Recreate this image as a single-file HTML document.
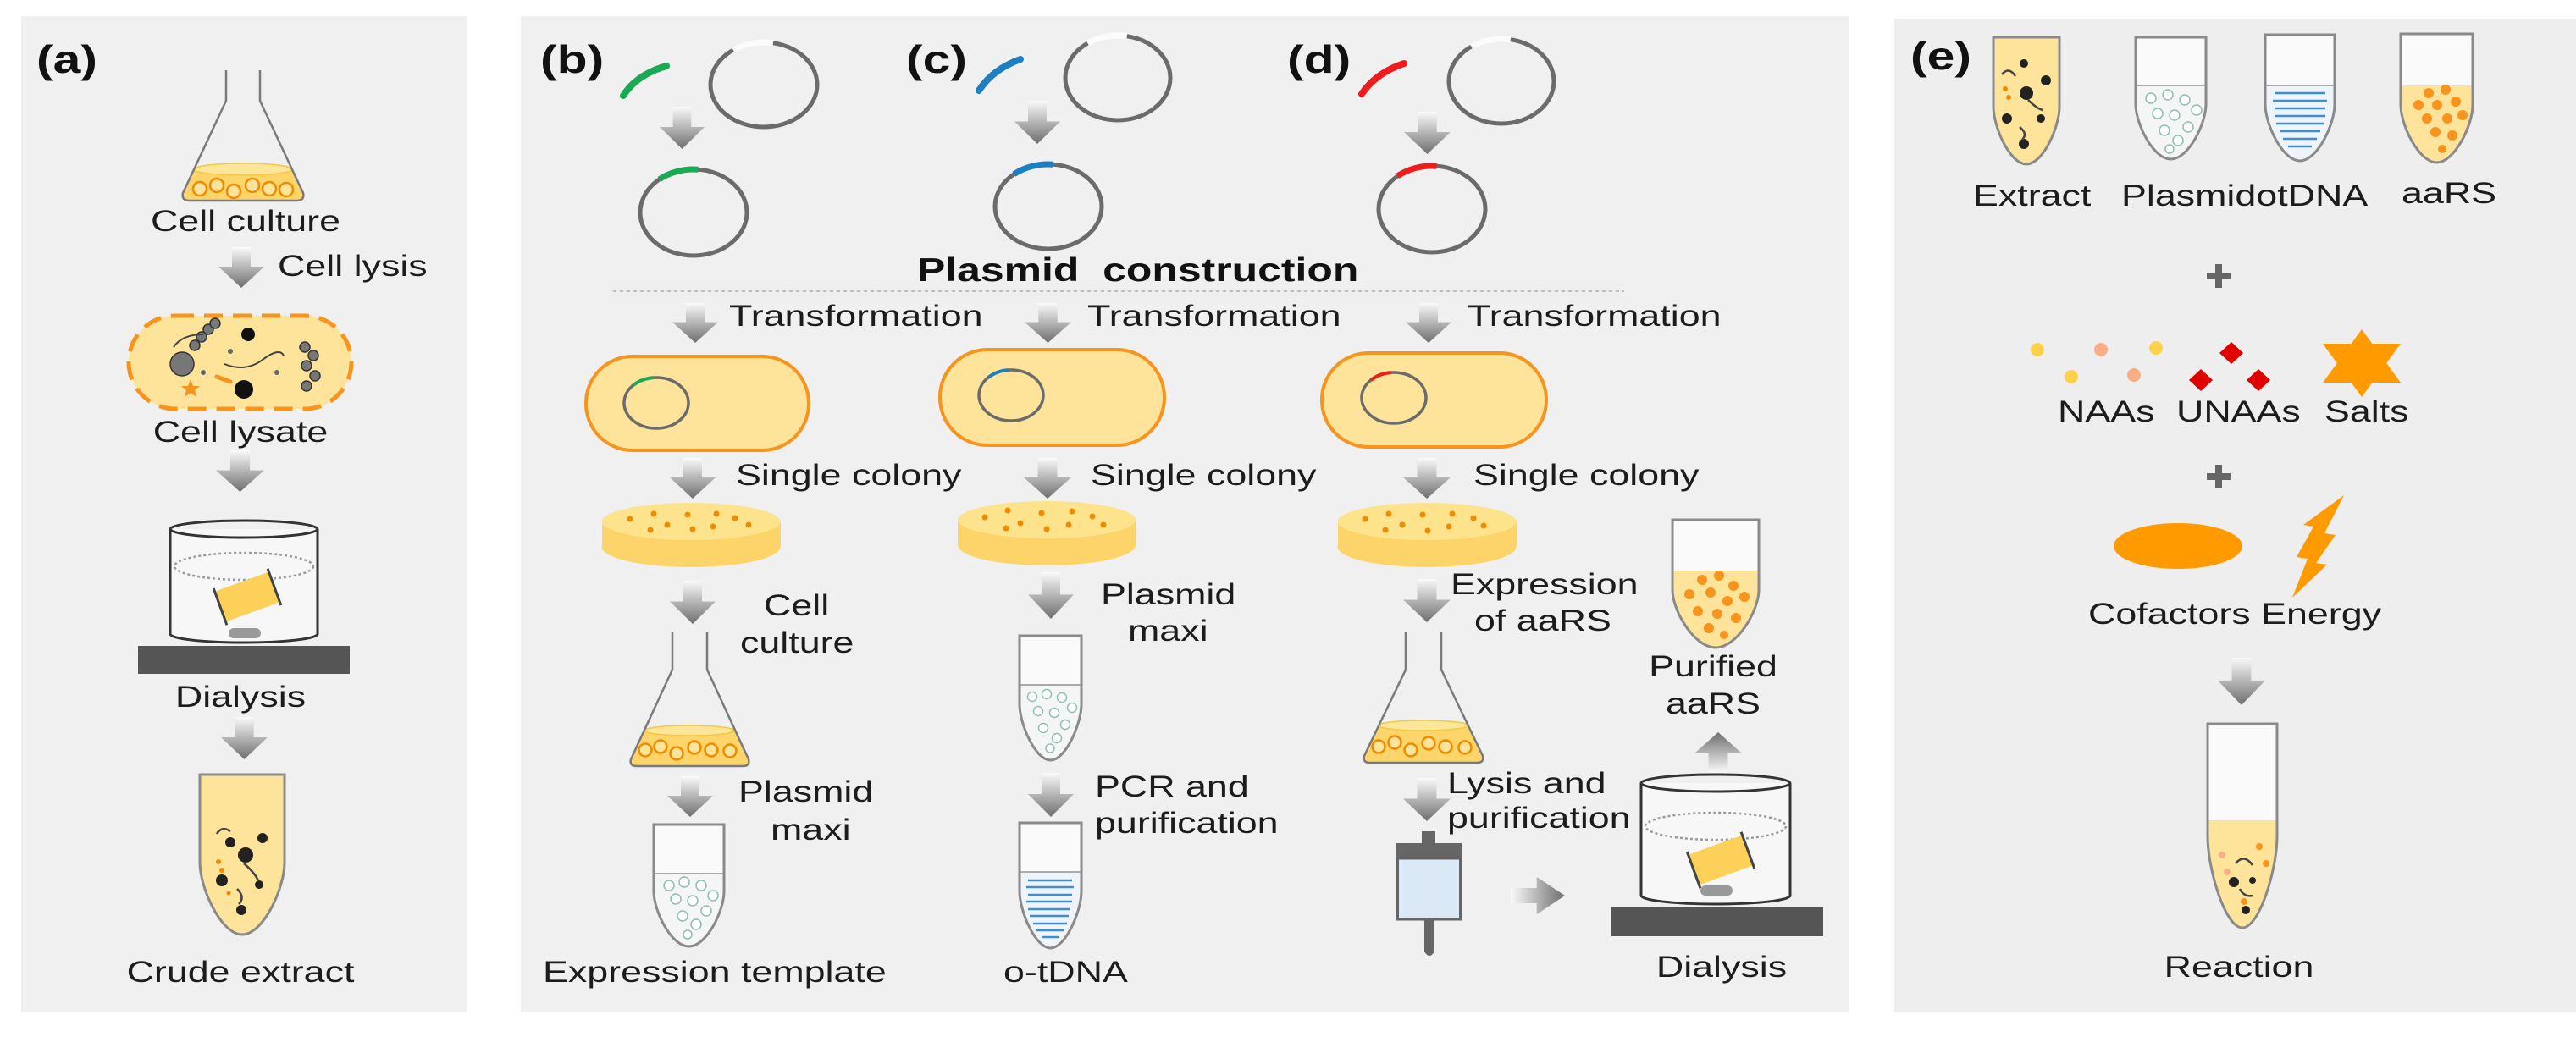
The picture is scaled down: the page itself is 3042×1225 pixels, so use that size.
<!DOCTYPE html>
<html><head><meta charset="utf-8"><style>
html,body{margin:0;padding:0;background:#fff}
svg{display:block}
.t{font-family:"Liberation Sans",Arial,sans-serif;font-size:35px;fill:#1c1c1c}
.b{font-family:"Liberation Sans",Arial,sans-serif;font-weight:bold;font-size:46px;fill:#111}
.pc{font-family:"Liberation Sans",Arial,sans-serif;font-weight:bold;font-size:39px;fill:#111}
.tube{fill:none;stroke:#8a8a8a;stroke-width:3}
.fl{fill:none;stroke:#7a7a7a;stroke-width:2.5}
.pl{fill:none;stroke:#6b6b6b;stroke-width:5}
.cell{fill:#fde49a;stroke:#f7941d;stroke-width:4}
.dot{fill:#f08a00}
.cc{fill:#fde49a;stroke:#f08a00;stroke-width:2.5}
</style></head><body>
<svg width="3042" height="1225" viewBox="0 0 3042 1225" xmlns="http://www.w3.org/2000/svg">
<defs>
<linearGradient id="gd" x1="0" y1="0" x2="0" y2="1"><stop offset="0" stop-color="#fafafa"/><stop offset="1" stop-color="#6e6e6e"/></linearGradient>
<linearGradient id="gr" x1="0" y1="0" x2="1" y2="0"><stop offset="0" stop-color="#fafafa"/><stop offset="1" stop-color="#6e6e6e"/></linearGradient>
<linearGradient id="gu" x1="0" y1="1" x2="0" y2="0"><stop offset="0" stop-color="#fafafa"/><stop offset="1" stop-color="#6e6e6e"/></linearGradient>
<symbol id="dn" viewBox="0 0 54 50" preserveAspectRatio="none"><path d="M16,0 H38 V24 H54 L27,50 L0,24 H16 Z" fill="url(#gd)"/></symbol>
<symbol id="rt" viewBox="0 0 50 54" preserveAspectRatio="none"><path d="M0,16 V38 H24 V54 L50,27 L24,0 V16 Z" fill="url(#gr)"/></symbol>
<symbol id="up" viewBox="0 0 54 50" preserveAspectRatio="none"><path d="M16,50 H38 V26 H54 L27,0 L0,26 H16 Z" fill="url(#gu)"/></symbol>
</defs>

<!-- panels -->
<rect x="25" y="19" width="527" height="1177" fill="#f0f0f0"/>
<rect x="615" y="19" width="1569" height="1177" fill="#f0f0f0"/>
<rect x="2237" y="22" width="805" height="1174" fill="#eeeeee"/>

<!-- ===== Panel a ===== -->
<text class="b" transform="matrix(1.28 0 0 1 43 86)">(a)</text>
<path d="M229,200 L216,228 Q214,237 224,237 L350,237 Q360,237 358,228 L345,200 Z" fill="#fdd56b"/>
<ellipse cx="287" cy="200" rx="58" ry="7" fill="#fde69a" stroke="#f5c842" stroke-width="1.5"/>
<g class="cc"><circle cx="236" cy="223" r="8"/><circle cx="256" cy="219" r="8"/><circle cx="276" cy="226" r="8"/><circle cx="298" cy="219" r="8"/><circle cx="318" cy="223" r="8"/><circle cx="338" cy="224" r="8"/></g>
<path class="fl" d="M267,83 L267,119 L216,228 Q214,237 224,237 L350,237 Q360,237 358,228 L307,119 L307,83"/>
<text class="t" text-anchor="middle" transform="matrix(1.28 0 0 1 290 273)">Cell culture</text>
<use href="#dn" x="258" y="292" width="54" height="48"/>
<text class="t" transform="matrix(1.28 0 0 1 328 326)">Cell lysis</text>
<rect x="152" y="373" width="263" height="110" rx="55" fill="#fde49a" stroke="#f7941d" stroke-width="5" stroke-dasharray="22 12"/>
<g fill="#777" stroke="#333" stroke-width="1.5"><circle cx="215" cy="430" r="14"/><circle cx="230" cy="408" r="6"/><circle cx="238" cy="398" r="6"/><circle cx="246" cy="389" r="6"/><circle cx="254" cy="382" r="6"/>
<circle cx="360" cy="410" r="6"/><circle cx="370" cy="420" r="6"/><circle cx="362" cy="432" r="6"/><circle cx="372" cy="444" r="6"/><circle cx="362" cy="456" r="6"/></g>
<path d="M265,430 Q290,440 310,425 T335,420" fill="none" stroke="#444" stroke-width="2"/>
<path d="M205,410 Q215,395 240,395" fill="none" stroke="#444" stroke-width="2"/>
<circle cx="293" cy="395" r="8" fill="#111"/><circle cx="288" cy="460" r="11" fill="#111"/><circle cx="272" cy="415" r="3" fill="#666"/><circle cx="327" cy="440" r="3" fill="#666"/><circle cx="240" cy="440" r="3" fill="#666"/>
<path d="M225,448 L228,456 L236,456 L230,461 L232,469 L225,464 L218,469 L220,461 L214,456 L222,456 Z" fill="#f7941d"/>
<line x1="256" y1="445" x2="272" y2="451" stroke="#f7941d" stroke-width="5" stroke-linecap="round"/>
<text class="t" text-anchor="middle" transform="matrix(1.28 0 0 1 284 522)">Cell lysate</text>
<use href="#dn" x="255" y="532" width="57" height="49"/>
<!-- beaker a -->
<path d="M201,625 V749 A87,10 0 0 0 375,749 V625" fill="#f7f7f7" stroke="#333" stroke-width="3"/>
<ellipse cx="288" cy="625" rx="87" ry="10" fill="none" stroke="#333" stroke-width="3"/>
<ellipse cx="288" cy="669" rx="82" ry="16" fill="none" stroke="#999" stroke-width="2.5" stroke-dasharray="3 3"/>
<g transform="rotate(-20 292 705)"><rect x="258" y="686" width="68" height="38" fill="#fdd05a"/><line x1="258" y1="682" x2="258" y2="728" stroke="#444" stroke-width="3"/><line x1="326" y1="682" x2="326" y2="728" stroke="#444" stroke-width="3"/></g>
<rect x="270" y="742" width="38" height="12" rx="6" fill="#999"/>
<rect x="163" y="763" width="250" height="33" fill="#555"/>
<text class="t" text-anchor="middle" transform="matrix(1.28 0 0 1 284 835)">Dialysis</text>
<use href="#dn" x="261" y="847" width="55" height="50"/>
<path d="M236,915 L236,1019 C236,1049 261,1104 286,1104 C311,1104 336,1049 336,1019 L336,915 Z" fill="#fde49a"/>
<g fill="#222"><circle cx="272" cy="995" r="6"/><circle cx="290" cy="1010" r="9"/><circle cx="262" cy="1040" r="7"/><circle cx="306" cy="1045" r="5"/><circle cx="285" cy="1075" r="6"/><circle cx="310" cy="990" r="6"/></g>
<path d="M256,985 Q262,975 272,982 M288,1020 Q300,1030 305,1040 M280,1050 Q290,1060 282,1068" fill="none" stroke="#444" stroke-width="2.5"/>
<g fill="#f08a00"><circle cx="258" cy="1018" r="3"/><circle cx="262" cy="1028" r="3"/><circle cx="270" cy="1055" r="2.5"/></g>
<path class="tube" d="M236,915 L236,1019 C236,1049 261,1104 286,1104 C311,1104 336,1049 336,1019 L336,915 Z"/>
<text class="t" text-anchor="middle" transform="matrix(1.28 0 0 1 284 1160)">Crude extract</text>

<!-- ===== Panel b,c,d ===== -->
<text class="b" transform="matrix(1.28 0 0 1 638 86)">(b)</text>
<text class="b" transform="matrix(1.28 0 0 1 1070 86)">(c)</text>
<text class="b" transform="matrix(1.28 0 0 1 1520 86)">(d)</text>
<!-- fragments -->
<path d="M736,113 Q752,88 787,78" fill="none" stroke="#1aaa55" stroke-width="8" stroke-linecap="round"/>
<path d="M1156,107 Q1172,82 1205,70" fill="none" stroke="#1e7fc0" stroke-width="8" stroke-linecap="round"/>
<path d="M1608,111 Q1625,86 1658,75" fill="none" stroke="#ee1c1c" stroke-width="8" stroke-linecap="round"/>
<!-- open plasmids -->
<ellipse class="pl" cx="902" cy="100" rx="63" ry="50"/><path d="M865.8,59 A63,50 0 0 1 913,50.8" fill="none" stroke="#fbfbfb" stroke-width="7"/>
<ellipse class="pl" cx="1320" cy="92" rx="62" ry="50"/><path d="M1284.4,51 A62,50 0 0 1 1330.8,42.8" fill="none" stroke="#fbfbfb" stroke-width="7"/>
<ellipse class="pl" cx="1773" cy="96" rx="62" ry="50"/><path d="M1737.4,55 A62,50 0 0 1 1783.8,46.8" fill="none" stroke="#fbfbfb" stroke-width="7"/>
<use href="#dn" x="779" y="126" width="53" height="50"/>
<use href="#dn" x="1198" y="119" width="54" height="51"/>
<use href="#dn" x="1658" y="132" width="55" height="50"/>
<!-- recombinant plasmids -->
<ellipse class="pl" cx="819" cy="251" rx="63" ry="51"/><path d="M778.5,211.9 A63,51 0 0 1 824.5,200.2" fill="none" stroke="#1aaa55" stroke-width="7"/>
<ellipse class="pl" cx="1238" cy="244" rx="63" ry="50"/><path d="M1197.5,205.7 A63,50 0 0 1 1243.5,194.2" fill="none" stroke="#1e7fc0" stroke-width="7"/>
<ellipse class="pl" cx="1691" cy="247" rx="63" ry="51"/><path d="M1650.5,207.9 A63,51 0 0 1 1696.5,196.2" fill="none" stroke="#ee1c1c" stroke-width="7"/>
<text class="pc" transform="matrix(1.28 0 0 1 1083 332)" xml:space="preserve">Plasmid  construction</text>
<line x1="724" y1="344" x2="1918" y2="344" stroke="#bdbdbd" stroke-width="2" stroke-dasharray="4 4"/>
<!-- transformation -->
<use href="#dn" x="794" y="358" width="54" height="47"/>
<use href="#dn" x="1210" y="358" width="55" height="47"/>
<use href="#dn" x="1660" y="358" width="54" height="47"/>
<text class="t" transform="matrix(1.28 0 0 1 861 385)">Transformation</text>
<text class="t" transform="matrix(1.28 0 0 1 1284 385)">Transformation</text>
<text class="t" transform="matrix(1.28 0 0 1 1733 385)">Transformation</text>
<!-- cells -->
<rect class="cell" x="692" y="421" width="263" height="111" rx="55"/>
<rect class="cell" x="1110" y="413" width="265" height="113" rx="56"/>
<rect class="cell" x="1561" y="417" width="265" height="111" rx="55"/>
<ellipse cx="775" cy="476" rx="38" ry="30" fill="none" stroke="#6b6b6b" stroke-width="3.5"/><path d="M748,455 A38,30 0 0 1 771.7,446.1" fill="none" stroke="#1aaa55" stroke-width="4"/>
<ellipse cx="1194" cy="467" rx="38" ry="30" fill="none" stroke="#6b6b6b" stroke-width="3.5"/><path d="M1167,446 A38,30 0 0 1 1190.7,437.1" fill="none" stroke="#1e7fc0" stroke-width="4"/>
<ellipse cx="1646" cy="470" rx="38" ry="30" fill="none" stroke="#6b6b6b" stroke-width="3.5"/><path d="M1619,449 A38,30 0 0 1 1642.7,440.1" fill="none" stroke="#ee1c1c" stroke-width="4"/>
<!-- single colony -->
<use href="#dn" x="791" y="541" width="54" height="48"/>
<use href="#dn" x="1209" y="541" width="56" height="48"/>
<use href="#dn" x="1657" y="541" width="56" height="48"/>
<text class="t" transform="matrix(1.28 0 0 1 869 573)">Single colony</text>
<text class="t" transform="matrix(1.28 0 0 1 1288 573)">Single colony</text>
<text class="t" transform="matrix(1.28 0 0 1 1740 573)">Single colony</text>
<!-- petri dishes -->
<g>
<rect x="711" y="616" width="211" height="30" fill="#fcd46a"/><ellipse cx="816" cy="646" rx="105.5" ry="24" fill="#fcd46a"/><ellipse cx="816" cy="616" rx="105.5" ry="22" fill="#fde48c"/>
<rect x="1131" y="614" width="210" height="30" fill="#fcd46a"/><ellipse cx="1236" cy="644" rx="105" ry="24" fill="#fcd46a"/><ellipse cx="1236" cy="614" rx="105" ry="22" fill="#fde48c"/>
<rect x="1580" y="616" width="211" height="30" fill="#fcd46a"/><ellipse cx="1685" cy="646" rx="105.5" ry="24" fill="#fcd46a"/><ellipse cx="1685" cy="616" rx="105.5" ry="22" fill="#fde48c"/>
</g>
<g class="dot">
<circle cx="744" cy="613" r="3.5"/><circle cx="772" cy="607" r="3.5"/><circle cx="788" cy="620" r="3.5"/><circle cx="812" cy="608" r="3.5"/><circle cx="818" cy="625" r="3.5"/><circle cx="846" cy="607" r="3.5"/><circle cx="842" cy="622" r="3.5"/><circle cx="868" cy="612" r="3.5"/><circle cx="884" cy="620" r="3.5"/><circle cx="768" cy="626" r="3.5"/>
<circle cx="1163" cy="611" r="3.5"/><circle cx="1190" cy="603" r="3.5"/><circle cx="1205" cy="618" r="3.5"/><circle cx="1230" cy="606" r="3.5"/><circle cx="1236" cy="625" r="3.5"/><circle cx="1266" cy="604" r="3.5"/><circle cx="1262" cy="620" r="3.5"/><circle cx="1290" cy="610" r="3.5"/><circle cx="1303" cy="620" r="3.5"/><circle cx="1188" cy="624" r="3.5"/>
<circle cx="1612" cy="613" r="3.5"/><circle cx="1640" cy="607" r="3.5"/><circle cx="1656" cy="620" r="3.5"/><circle cx="1680" cy="608" r="3.5"/><circle cx="1686" cy="627" r="3.5"/><circle cx="1715" cy="607" r="3.5"/><circle cx="1711" cy="622" r="3.5"/><circle cx="1740" cy="612" r="3.5"/><circle cx="1752" cy="621" r="3.5"/><circle cx="1636" cy="626" r="3.5"/>
</g>
<!-- column b lower -->
<use href="#dn" x="791" y="686" width="54" height="51"/>
<text class="t" transform="matrix(1.28 0 0 1 902 727)">Cell</text>
<text class="t" transform="matrix(1.28 0 0 1 874 771)">culture</text>
<path d="M761,863 L745,897 Q743,905 752,905 L877,905 Q886,905 884,897 L868,863 Z" fill="#fdd56b"/>
<ellipse cx="814" cy="863" rx="53" ry="6" fill="#fde69a" stroke="#f5c842" stroke-width="1.5"/>
<g class="cc"><circle cx="762" cy="886" r="7.5"/><circle cx="780" cy="882" r="7.5"/><circle cx="799" cy="890" r="7.5"/><circle cx="820" cy="883" r="7.5"/><circle cx="840" cy="886" r="7.5"/><circle cx="862" cy="887" r="7.5"/></g>
<path class="fl" d="M794,747 L794,791 L745,897 Q743,905 752,905 L877,905 Q886,905 884,897 L835,791 L835,747"/>
<use href="#dn" x="788" y="917" width="54" height="48"/>
<text class="t" transform="matrix(1.28 0 0 1 872 947)">Plasmid</text>
<text class="t" transform="matrix(1.28 0 0 1 910 992)">maxi</text>
<path d="M772,974 L772,1053 C772,1076 792.5,1118 813.5,1118 C834.5,1118 855,1076 855,1053 L855,974 Z" fill="#f4f6f6"/>
<rect x="773" y="975" width="81" height="57" fill="#fafafa"/><line x1="773" y1="1032" x2="854" y2="1032" stroke="#aaa" stroke-width="2"/>
<g fill="#fff" stroke="#8fbdb5" stroke-width="1.5"><circle cx="790" cy="1046" r="6"/><circle cx="808" cy="1042" r="6"/><circle cx="828" cy="1046" r="6"/><circle cx="842" cy="1058" r="6"/><circle cx="798" cy="1062" r="6"/><circle cx="818" cy="1064" r="6"/><circle cx="834" cy="1076" r="6"/><circle cx="806" cy="1082" r="6"/><circle cx="822" cy="1092" r="6"/><circle cx="812" cy="1104" r="5"/></g>
<path class="tube" d="M772,974 L772,1053 C772,1076 792.5,1118 813.5,1118 C834.5,1118 855,1076 855,1053 L855,974 Z"/>
<text class="t" transform="matrix(1.28 0 0 1 641 1160)">Expression template</text>
<!-- column c lower -->
<use href="#dn" x="1214" y="676" width="54" height="55"/>
<text class="t" transform="matrix(1.28 0 0 1 1300 714)">Plasmid</text>
<text class="t" transform="matrix(1.28 0 0 1 1332 757)">maxi</text>
<path d="M1204,751 L1204,832 C1204,855 1222.5,898 1240.5,898 C1258.5,898 1277,855 1277,832 L1277,751 Z" fill="#f4f6f6"/>
<rect x="1205" y="752" width="71" height="57" fill="#fafafa"/><line x1="1205" y1="809" x2="1276" y2="809" stroke="#aaa" stroke-width="2"/>
<g fill="#fff" stroke="#8fbdb5" stroke-width="1.5"><circle cx="1219" cy="823" r="5.5"/><circle cx="1236" cy="820" r="5.5"/><circle cx="1254" cy="824" r="5.5"/><circle cx="1266" cy="836" r="5.5"/><circle cx="1226" cy="840" r="5.5"/><circle cx="1245" cy="842" r="5.5"/><circle cx="1258" cy="856" r="5.5"/><circle cx="1232" cy="860" r="5.5"/><circle cx="1248" cy="872" r="5.5"/><circle cx="1240" cy="884" r="5"/></g>
<path class="tube" d="M1204,751 L1204,832 C1204,855 1222.5,898 1240.5,898 C1258.5,898 1277,855 1277,832 L1277,751 Z"/>
<use href="#dn" x="1214" y="913" width="54" height="52"/>
<text class="t" transform="matrix(1.28 0 0 1 1293 941)">PCR and</text>
<text class="t" transform="matrix(1.28 0 0 1 1293 984)">purification</text>
<path d="M1204,972 L1204,1053 C1204,1076 1222.5,1120 1240.5,1120 C1258.5,1120 1277,1076 1277,1053 L1277,972 Z" fill="#eef4fa"/>
<rect x="1205" y="973" width="71" height="57" fill="#fafafa"/><line x1="1205" y1="1030" x2="1276" y2="1030" stroke="#aaa" stroke-width="2"/>
<g stroke="#3d8fd0" stroke-width="2.5"><line x1="1214" y1="1040" x2="1266" y2="1040"/><line x1="1212" y1="1048" x2="1268" y2="1048"/><line x1="1214" y1="1057" x2="1266" y2="1057"/><line x1="1212" y1="1065" x2="1266" y2="1065"/><line x1="1214" y1="1074" x2="1264" y2="1074"/><line x1="1216" y1="1082" x2="1262" y2="1082"/><line x1="1220" y1="1091" x2="1260" y2="1091"/><line x1="1224" y1="1099" x2="1256" y2="1099"/><line x1="1230" y1="1107" x2="1250" y2="1107"/></g>
<path class="tube" d="M1204,972 L1204,1053 C1204,1076 1222.5,1120 1240.5,1120 C1258.5,1120 1277,1076 1277,1053 L1277,972 Z"/>
<text class="t" transform="matrix(1.28 0 0 1 1185 1160)">o-tDNA</text>
<!-- column d lower -->
<use href="#dn" x="1657" y="684" width="56" height="51"/>
<text class="t" transform="matrix(1.28 0 0 1 1713 702)">Expression</text>
<text class="t" transform="matrix(1.28 0 0 1 1741 745)">of aaRS</text>
<path d="M1628,857 L1611,893 Q1609,901 1618,901 L1744,901 Q1753,901 1751,893 L1734,857 Z" fill="#fdd56b"/>
<ellipse cx="1681" cy="857" rx="53" ry="6" fill="#fde69a" stroke="#f5c842" stroke-width="1.5"/>
<g class="cc"><circle cx="1628" cy="882" r="7.5"/><circle cx="1647" cy="877" r="7.5"/><circle cx="1666" cy="886" r="7.5"/><circle cx="1687" cy="878" r="7.5"/><circle cx="1707" cy="882" r="7.5"/><circle cx="1730" cy="883" r="7.5"/></g>
<path class="fl" d="M1660,747 L1660,791 L1611,893 Q1609,901 1618,901 L1744,901 Q1753,901 1751,893 L1702,791 L1702,747"/>
<use href="#dn" x="1657" y="919" width="56" height="51"/>
<text class="t" transform="matrix(1.28 0 0 1 1709 937)">Lysis and</text>
<text class="t" transform="matrix(1.28 0 0 1 1709 978)">purification</text>
<rect x="1679" y="982" width="16" height="15" fill="#666"/>
<rect x="1649" y="996" width="77" height="18" fill="#666"/>
<rect x="1650.5" y="1014" width="74" height="72" fill="#dbe9f6" stroke="#666" stroke-width="3"/>
<path d="M1682,1086 H1694 V1124 Q1688,1134 1682,1124 Z" fill="#666"/>
<use href="#rt" x="1784" y="1036" width="64" height="44"/>
<!-- purified aaRS tube -->
<path d="M1975,614 L1975,697 C1975,721 2000.5,765 2026,765 C2051.5,765 2077,721 2077,697 L2077,614 Z" fill="#fde49a"/>
<rect x="1976" y="615" width="100" height="59" fill="#fafafa"/>
<g fill="#f7941d"><circle cx="2010" cy="685" r="6"/><circle cx="2030" cy="680" r="6"/><circle cx="2047" cy="692" r="6"/><circle cx="1995" cy="702" r="6"/><circle cx="2020" cy="700" r="6"/><circle cx="2040" cy="710" r="6"/><circle cx="2060" cy="705" r="6"/><circle cx="2005" cy="722" r="6"/><circle cx="2028" cy="725" r="6"/><circle cx="2050" cy="730" r="6"/><circle cx="2018" cy="742" r="6"/><circle cx="2036" cy="750" r="5"/></g>
<path class="tube" d="M1975,614 L1975,697 C1975,721 2000.5,765 2026,765 C2051.5,765 2077,721 2077,697 L2077,614 Z"/>
<text class="t" text-anchor="middle" transform="matrix(1.28 0 0 1 2023 799)">Purified</text>
<text class="t" text-anchor="middle" transform="matrix(1.28 0 0 1 2023 843)">aaRS</text>
<use href="#up" x="2001" y="865" width="56" height="48"/>
<!-- beaker d -->
<path d="M1938,925 V1058 A88,10 0 0 0 2114,1058 V925" fill="#f7f7f7" stroke="#333" stroke-width="3"/>
<ellipse cx="2026" cy="925" rx="88" ry="10" fill="none" stroke="#333" stroke-width="3"/>
<ellipse cx="2026" cy="976" rx="83" ry="16" fill="none" stroke="#999" stroke-width="2.5" stroke-dasharray="3 3"/>
<g transform="rotate(-20 2032 1016)"><rect x="1998" y="997" width="68" height="38" fill="#fdd05a"/><line x1="1998" y1="993" x2="1998" y2="1039" stroke="#444" stroke-width="3"/><line x1="2066" y1="993" x2="2066" y2="1039" stroke="#444" stroke-width="3"/></g>
<rect x="2008" y="1046" width="38" height="12" rx="6" fill="#999"/>
<rect x="1903" y="1072" width="250" height="34" fill="#555"/>
<text class="t" text-anchor="middle" transform="matrix(1.28 0 0 1 2033 1154)">Dialysis</text>

<!-- ===== Panel e ===== -->
<text class="b" transform="matrix(1.28 0 0 1 2256 82)">(e)</text>
<!-- extract tube -->
<path d="M2354,44 L2354,126 C2354,150 2373.5,194 2393,194 C2412.5,194 2432,150 2432,126 L2432,44 Z" fill="#fde49a"/>
<g fill="#222"><circle cx="2390" cy="75" r="5"/><circle cx="2393" cy="110" r="8"/><circle cx="2416" cy="95" r="6"/><circle cx="2370" cy="140" r="6"/><circle cx="2410" cy="140" r="5"/><circle cx="2390" cy="170" r="6"/></g>
<path d="M2364,88 Q2372,78 2380,90 M2395,118 Q2405,128 2412,130 M2385,150 Q2395,158 2388,165" fill="none" stroke="#444" stroke-width="2.5"/>
<g fill="#f08a00"><circle cx="2368" cy="105" r="3"/><circle cx="2372" cy="115" r="3"/></g>
<path class="tube" d="M2354,44 L2354,126 C2354,150 2373.5,194 2393,194 C2412.5,194 2432,150 2432,126 L2432,44 Z"/>
<!-- plasmid tube -->
<path d="M2522,44 L2522,123 C2522,146 2542.5,188 2563.5,188 C2584.5,188 2605,146 2605,123 L2605,44 Z" fill="#f4f6f6"/>
<rect x="2523" y="45" width="81" height="56" fill="#fafafa"/><line x1="2523" y1="101" x2="2604" y2="101" stroke="#aaa" stroke-width="2"/>
<g fill="#fff" stroke="#8fbdb5" stroke-width="1.5"><circle cx="2540" cy="116" r="6"/><circle cx="2560" cy="112" r="6"/><circle cx="2580" cy="118" r="6"/><circle cx="2594" cy="130" r="6"/><circle cx="2548" cy="134" r="6"/><circle cx="2568" cy="136" r="6"/><circle cx="2584" cy="150" r="6"/><circle cx="2556" cy="154" r="6"/><circle cx="2572" cy="166" r="6"/><circle cx="2562" cy="176" r="5"/></g>
<path class="tube" d="M2522,44 L2522,123 C2522,146 2542.5,188 2563.5,188 C2584.5,188 2605,146 2605,123 L2605,44 Z"/>
<!-- otDNA tube -->
<path d="M2675,41 L2675,123 C2675,147 2695.5,190 2716,190 C2736.5,190 2757,147 2757,123 L2757,41 Z" fill="#eef4fa"/>
<rect x="2676" y="42" width="80" height="59" fill="#fafafa"/><line x1="2676" y1="101" x2="2756" y2="101" stroke="#aaa" stroke-width="2"/>
<g stroke="#3d8fd0" stroke-width="2.5"><line x1="2686" y1="110" x2="2746" y2="110"/><line x1="2684" y1="119" x2="2748" y2="119"/><line x1="2686" y1="128" x2="2746" y2="128"/><line x1="2686" y1="137" x2="2746" y2="137"/><line x1="2688" y1="146" x2="2744" y2="146"/><line x1="2692" y1="155" x2="2740" y2="155"/><line x1="2696" y1="164" x2="2736" y2="164"/><line x1="2702" y1="173" x2="2730" y2="173"/></g>
<path class="tube" d="M2675,41 L2675,123 C2675,147 2695.5,190 2716,190 C2736.5,190 2757,147 2757,123 L2757,41 Z"/>
<!-- aaRS tube -->
<path d="M2835,40 L2835,124 C2835,148 2856.5,192 2877.5,192 C2898.5,192 2920,148 2920,124 L2920,40 Z" fill="#fde49a"/>
<rect x="2836" y="41" width="83" height="60" fill="#fafafa"/>
<g fill="#f7941d"><circle cx="2868" cy="110" r="6"/><circle cx="2888" cy="106" r="6"/><circle cx="2856" cy="124" r="6"/><circle cx="2878" cy="124" r="6"/><circle cx="2900" cy="120" r="6"/><circle cx="2866" cy="140" r="6"/><circle cx="2890" cy="140" r="6"/><circle cx="2908" cy="136" r="6"/><circle cx="2876" cy="156" r="6"/><circle cx="2896" cy="160" r="6"/><circle cx="2884" cy="176" r="5"/></g>
<path class="tube" d="M2835,40 L2835,124 C2835,148 2856.5,192 2877.5,192 C2898.5,192 2920,148 2920,124 L2920,40 Z"/>
<text class="t" transform="matrix(1.28 0 0 1 2330 243)">Extract</text>
<text class="t" transform="matrix(1.28 0 0 1 2505 243)">PlasmidotDNA</text>
<text class="t" transform="matrix(1.28 0 0 1 2836 240)">aaRS</text>
<!-- plus -->
<g fill="#666"><rect x="2606" y="322" width="28" height="8"/><rect x="2616" y="312" width="8" height="28"/>
<rect x="2606" y="559" width="28" height="8"/><rect x="2616" y="549" width="8" height="28"/></g>
<!-- NAAs / UNAAs / salts -->
<g><circle cx="2406" cy="413" r="8" fill="#fdd24a"/><circle cx="2481" cy="413" r="8" fill="#f9ae86"/><circle cx="2546" cy="411" r="8" fill="#fdd24a"/><circle cx="2446" cy="445" r="8" fill="#fdd24a"/><circle cx="2520" cy="443" r="8" fill="#f9ae86"/></g>
<g fill="#e00000"><path d="M2635,404 L2649,417 L2635,430 L2621,417 Z"/><path d="M2599,436 L2613,449 L2599,462 L2585,449 Z"/><path d="M2667,436 L2681,449 L2667,462 L2653,449 Z"/></g>
<g fill="#ff9a00"><path d="M2789,389 L2835,452 L2743,452 Z"/><path d="M2789,469 L2835,406 L2743,406 Z"/></g>
<text class="t" transform="matrix(1.28 0 0 1 2430 498)">NAAs</text>
<text class="t" transform="matrix(1.28 0 0 1 2570 498)">UNAAs</text>
<text class="t" transform="matrix(1.28 0 0 1 2745 498)">Salts</text>
<!-- cofactors energy -->
<ellipse cx="2572" cy="645" rx="76" ry="27" fill="#ff9a00"/>
<path d="M2768,585 L2745,630 L2758,632 L2735,665 L2748,667 L2707,706 L2725,660 L2712,658 L2732,622 L2720,620 Z" fill="#ff9a00"/>
<text class="t" transform="matrix(1.28 0 0 1 2466 737)">Cofactors Energy</text>
<use href="#dn" x="2619" y="777" width="56" height="56"/>
<!-- reaction tube -->
<path d="M2607,855 L2607,988 C2607,1026 2627.5,1096 2648,1096 C2668.5,1096 2689,1026 2689,988 L2689,855 Z" fill="#fde49a"/>
<rect x="2608" y="856" width="80" height="113" fill="#fafafa"/>
<g fill="#f7941d"><circle cx="2668" cy="1000" r="4"/><circle cx="2676" cy="1020" r="4"/><circle cx="2650" cy="1065" r="4"/></g>
<g fill="#f9ae86"><circle cx="2624" cy="1010" r="4"/><circle cx="2630" cy="1030" r="4"/></g>
<g fill="#222"><circle cx="2638" cy="1042" r="6"/><circle cx="2660" cy="1040" r="4"/><circle cx="2652" cy="1075" r="5"/></g>
<path d="M2640,1020 Q2650,1008 2660,1022 M2645,1050 Q2650,1060 2660,1058" fill="none" stroke="#444" stroke-width="2.5"/>
<path class="tube" d="M2607,855 L2607,988 C2607,1026 2627.5,1096 2648,1096 C2668.5,1096 2689,1026 2689,988 L2689,855 Z"/>
<text class="t" text-anchor="middle" transform="matrix(1.28 0 0 1 2644 1154)">Reaction</text>
</svg>
</body></html>
